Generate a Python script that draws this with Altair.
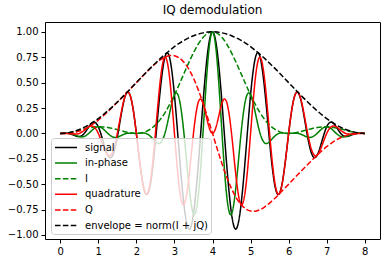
import altair as alt
import pandas as pd

t = [0.0, 0.125, 0.25, 0.375, 0.5, 0.625, 0.75, 0.875, 1.0, 1.125, 1.25, 1.375, 1.5, 1.625, 1.75, 1.875,
     2.0, 2.125, 2.25, 2.375, 2.5, 2.625, 2.75, 2.875, 3.0, 3.125, 3.25, 3.375, 3.5, 3.625, 3.75, 3.875,
     4.0, 4.125, 4.25, 4.375, 4.5, 4.625, 4.75, 4.875, 5.0, 5.125, 5.25, 5.375, 5.5, 5.625, 5.75, 5.875,
     6.0, 6.125, 6.25, 6.375, 6.5, 6.625, 6.75, 6.875, 7.0, 7.125, 7.25, 7.375, 7.5, 7.625, 7.75, 7.875, 8.0]

signal = [0.000, 0.001, -0.003, -0.020, -0.031, -0.003, 0.065, 0.111, 0.065, -0.076, -0.214, -0.218, -0.037,
          0.233, 0.402, 0.321, 0.000, -0.385, -0.597, -0.486, -0.082, 0.415, 0.751, 0.743, 0.379, -0.186,
          -0.701, -0.940, -0.793, -0.317, 0.299, 0.805, 1.000,
          0.805, 0.299, -0.317, -0.793, -0.940, -0.701, -0.186, 0.379, 0.743, 0.751, 0.415, -0.082, -0.486,
          -0.597, -0.385, 0.000, 0.321, 0.402, 0.233, -0.037, -0.218, -0.214, -0.076, 0.065, 0.111, 0.065,
          -0.003, -0.031, -0.020, -0.003, 0.001, 0.000]

in_phase = [0.000, 0.002, 0.000, -0.014, -0.031, -0.031, 0.000, 0.044, 0.065, 0.045, 0.000, -0.034, -0.037,
            -0.017, 0.000, 0.002, 0.000, 0.003, 0.000, -0.031, -0.082, -0.096, 0.000, 0.202, 0.379, 0.341,
            0.000, -0.491, -0.793, -0.621, 0.000, 0.697, 1.000,
            0.697, 0.000, -0.621, -0.793, -0.491, 0.000, 0.341, 0.379, 0.202, 0.000, -0.096, -0.082, -0.031,
            0.000, 0.003, 0.000, 0.002, 0.000, -0.017, -0.037, -0.034, 0.000, 0.045, 0.065, 0.044, 0.000,
            -0.031, -0.031, -0.014, 0.000, 0.002, 0.000]

I_vals = [0.000, 0.002, 0.009, 0.019, 0.031, 0.044, 0.054, 0.062, 0.065, 0.064, 0.058, 0.049, 0.037, 0.024,
          0.012, 0.003, 0.000, 0.004, 0.018, 0.044, 0.082, 0.136, 0.203, 0.285, 0.379, 0.482, 0.589, 0.695,
          0.793, 0.879, 0.944, 0.986, 1.000,
          0.986, 0.944, 0.879, 0.793, 0.695, 0.589, 0.482, 0.379, 0.285, 0.203, 0.136, 0.082, 0.044, 0.018,
          0.004, 0.000, 0.003, 0.012, 0.024, 0.037, 0.049, 0.058, 0.064, 0.065, 0.062, 0.054, 0.044, 0.031,
          0.019, 0.009, 0.002, 0.000]

quadrature = [0.000, 0.000, -0.003, -0.007, 0.000, 0.028, 0.065, 0.067, 0.000, -0.121, -0.214, -0.184, 0.000,
              0.250, 0.402, 0.319, 0.000, -0.388, -0.597, -0.455, 0.000, 0.511, 0.751, 0.541, 0.000, -0.526,
              -0.701, -0.449, 0.000, 0.305, 0.299, 0.108, 0.000,
              0.108, 0.299, 0.305, 0.000, -0.449, -0.701, -0.526, 0.000, 0.541, 0.751, 0.511, 0.000, -0.455,
              -0.597, -0.388, 0.000, 0.319, 0.402, 0.250, 0.000, -0.184, -0.214, -0.121, 0.000, 0.067, 0.065,
              0.028, 0.000, -0.007, -0.003, 0.000, 0.000]

Q_vals = [0.000, 0.000, 0.003, 0.009, 0.022, 0.040, 0.065, 0.095, 0.131, 0.171, 0.214, 0.260, 0.306, 0.354,
          0.402, 0.451, 0.500, 0.549, 0.597, 0.644, 0.686, 0.723, 0.751, 0.766, 0.765, 0.744, 0.701, 0.635,
          0.544, 0.431, 0.299, 0.153, 0.000,
          -0.153, -0.299, -0.431, -0.544, -0.635, -0.701, -0.744, -0.765, -0.766, -0.751, -0.723, -0.686,
          -0.644, -0.597, -0.549, -0.500, -0.451, -0.402, -0.354, -0.306, -0.260, -0.214, -0.171, -0.131,
          -0.095, -0.065, -0.040, -0.022, -0.009, -0.003, 0.000, 0.000]

envelope = [0.000, 0.002, 0.010, 0.022, 0.038, 0.059, 0.084, 0.114, 0.146, 0.183, 0.222, 0.264, 0.309, 0.355,
            0.402, 0.451, 0.500, 0.549, 0.598, 0.645, 0.691, 0.736, 0.778, 0.817, 0.854, 0.887, 0.916, 0.941,
            0.962, 0.978, 0.990, 0.998, 1.000,
            0.998, 0.990, 0.978, 0.962, 0.941, 0.916, 0.887, 0.854, 0.817, 0.778, 0.736, 0.691, 0.645, 0.598,
            0.549, 0.500, 0.451, 0.402, 0.355, 0.309, 0.264, 0.222, 0.183, 0.146, 0.114, 0.084, 0.059, 0.038,
            0.022, 0.010, 0.002, 0.000]

series_names = ["signal", "in-phase", "I", "quadrature", "Q", "envelope = norm(I + jQ)"]
series_values = [signal, in_phase, I_vals, quadrature, Q_vals, envelope]
series_colors = ["#000000", "#008000", "#008000", "#ff0000", "#ff0000", "#000000"]
series_dash = [[1, 0], [1, 0], [5.5, 2.4], [1, 0], [5.5, 2.4], [5.5, 2.4]]

rows = []
for order, (name, vals) in enumerate(zip(series_names, series_values)):
    for x, y in zip(t, vals):
        rows.append({"t": x, "value": y, "series": name, "order": order})
df = pd.DataFrame(rows)

chart = alt.Chart(df).mark_line(strokeWidth=1.5, interpolate="natural", clip=True).encode(
    x=alt.X("t:Q", scale=alt.Scale(domain=[-0.4, 8.4], nice=False, zero=False),
            axis=alt.Axis(values=[0, 1, 2, 3, 4, 5, 6, 7, 8], format="d", title=None)),
    y=alt.Y("value:Q", scale=alt.Scale(domain=[-1.040, 1.097], nice=False, zero=False),
            axis=alt.Axis(values=[-1, -0.75, -0.5, -0.25, 0, 0.25, 0.5, 0.75, 1], format=".2f", title=None)),
    color=alt.Color("series:N", scale=alt.Scale(domain=series_names, range=series_colors),
                    legend=alt.Legend(title=None)),
    strokeDash=alt.StrokeDash("series:N", scale=alt.Scale(domain=series_names, range=series_dash),
                              legend=alt.Legend(title=None)),
    order=alt.Order("order:Q"),
).properties(
    width=335, height=217,
    title=alt.TitleParams("IQ demodulation", fontSize=12, fontWeight="normal", font="DejaVu Sans",
                          color="#000000", offset=5),
    autosize=alt.AutoSizeParams(type="none"),
    padding={"left": 45, "top": 22, "right": 10, "bottom": 25},
).configure_view(
    stroke="#000000", strokeWidth=1
).configure_axis(
    grid=False, domain=False, tickColor="#000000", tickSize=4, tickWidth=1,
    labelFont="DejaVu Sans", labelFontSize=10, labelColor="#000000", labelPadding=3,
).configure_legend(
    orient="none", legendX=6, legendY=116,
    fillColor="rgba(255,255,255,0.8)", strokeColor="#cccccc", cornerRadius=3, padding=3,
    symbolType="M-1,0H3", symbolSize=121, symbolStrokeWidth=1.5,
    labelFont="DejaVu Sans", labelFontSize=10, labelColor="#000000", labelOffset=18,
    rowPadding=3.6, labelLimit=300,
)

chart.save("out.html", embed_options={"renderer": "svg", "actions": False})
